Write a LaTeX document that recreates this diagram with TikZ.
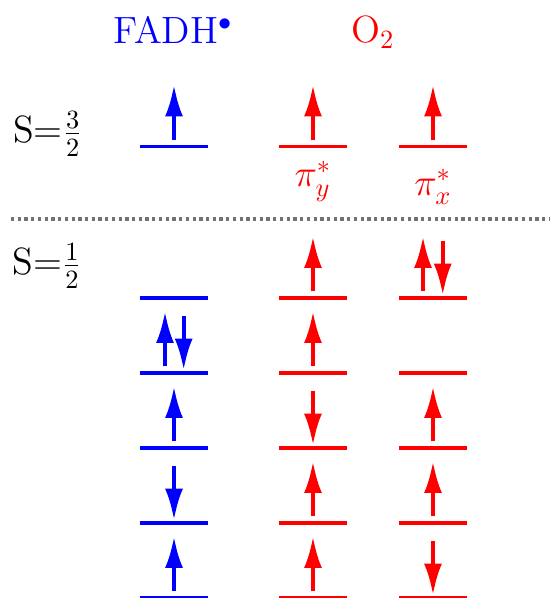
\documentclass[tikz,border=0pt]{standalone}
\usetikzlibrary{arrows.meta}
\begin{document}
\begin{tikzpicture}[every node/.style={font=\Large},
  lvl/.style={line width=1.25pt},
  spin/.style={line width=1.5pt, -{Latex[length=12pt,width=6.8pt]}}]
  \useasboundingbox (0,0) rectangle (7.347,7.973);

  % headers
  \node[blue, anchor=base] (fadh) at (2.31,7.387) {FADH$^\bullet$};
  \node[red, anchor=base] (otwo) at (4.973,7.4) {O$_2$};

  % spin states
  \node[anchor=base west, inner sep=0] (quartet) at (0.17,6.067) {S=$\frac{3}{2}$};
  \node[anchor=base west, inner sep=0] (doublet) at (0.16,4.307) {S=$\frac{1}{2}$};

  % separator
  \draw[black!55, line width=1.25pt, dash pattern=on 1.25pt off 1.3pt] (0.147,5.053) -- (7.33,5.053);

  % levels
  \foreach \y in {0,...,4,6.02} {
    \draw[lvl, blue] (1.867,\y) -- (2.773,\y);
    \draw[lvl, red] (3.72,\y) -- (4.627,\y);
    \draw[lvl, red] (5.32,\y) -- (6.227,\y);
  }
  \node[red, anchor=base] (piy) at (4.173,5.48) {$\pi_y^*$};
  \node[red, anchor=base] (pix) at (5.773,5.373) {$\pi_x^*$};

  % spin up
  \foreach \x/\y/\c in {2.32/0/blue, 2.32/2/blue, 2.2/3/blue, 2.32/6.02/blue,
      4.173/0/red, 4.173/1/red, 4.173/3/red, 4.173/4/red, 4.173/6.02/red,
      5.773/1/red, 5.773/2/red, 5.64/4/red, 5.773/6.02/red}
    \draw[spin, \c] (\x,\y+0.089) -- (\x,\y+0.823);

  % spin down
  \foreach \x/\y/\c in {2.32/1/blue, 2.449/3/blue, 4.173/2/red, 5.773/0/red, 5.903/4/red}
    \draw[spin, \c] (\x,\y+0.76) -- (\x,\y+0.036);
\end{tikzpicture}
\end{document}
